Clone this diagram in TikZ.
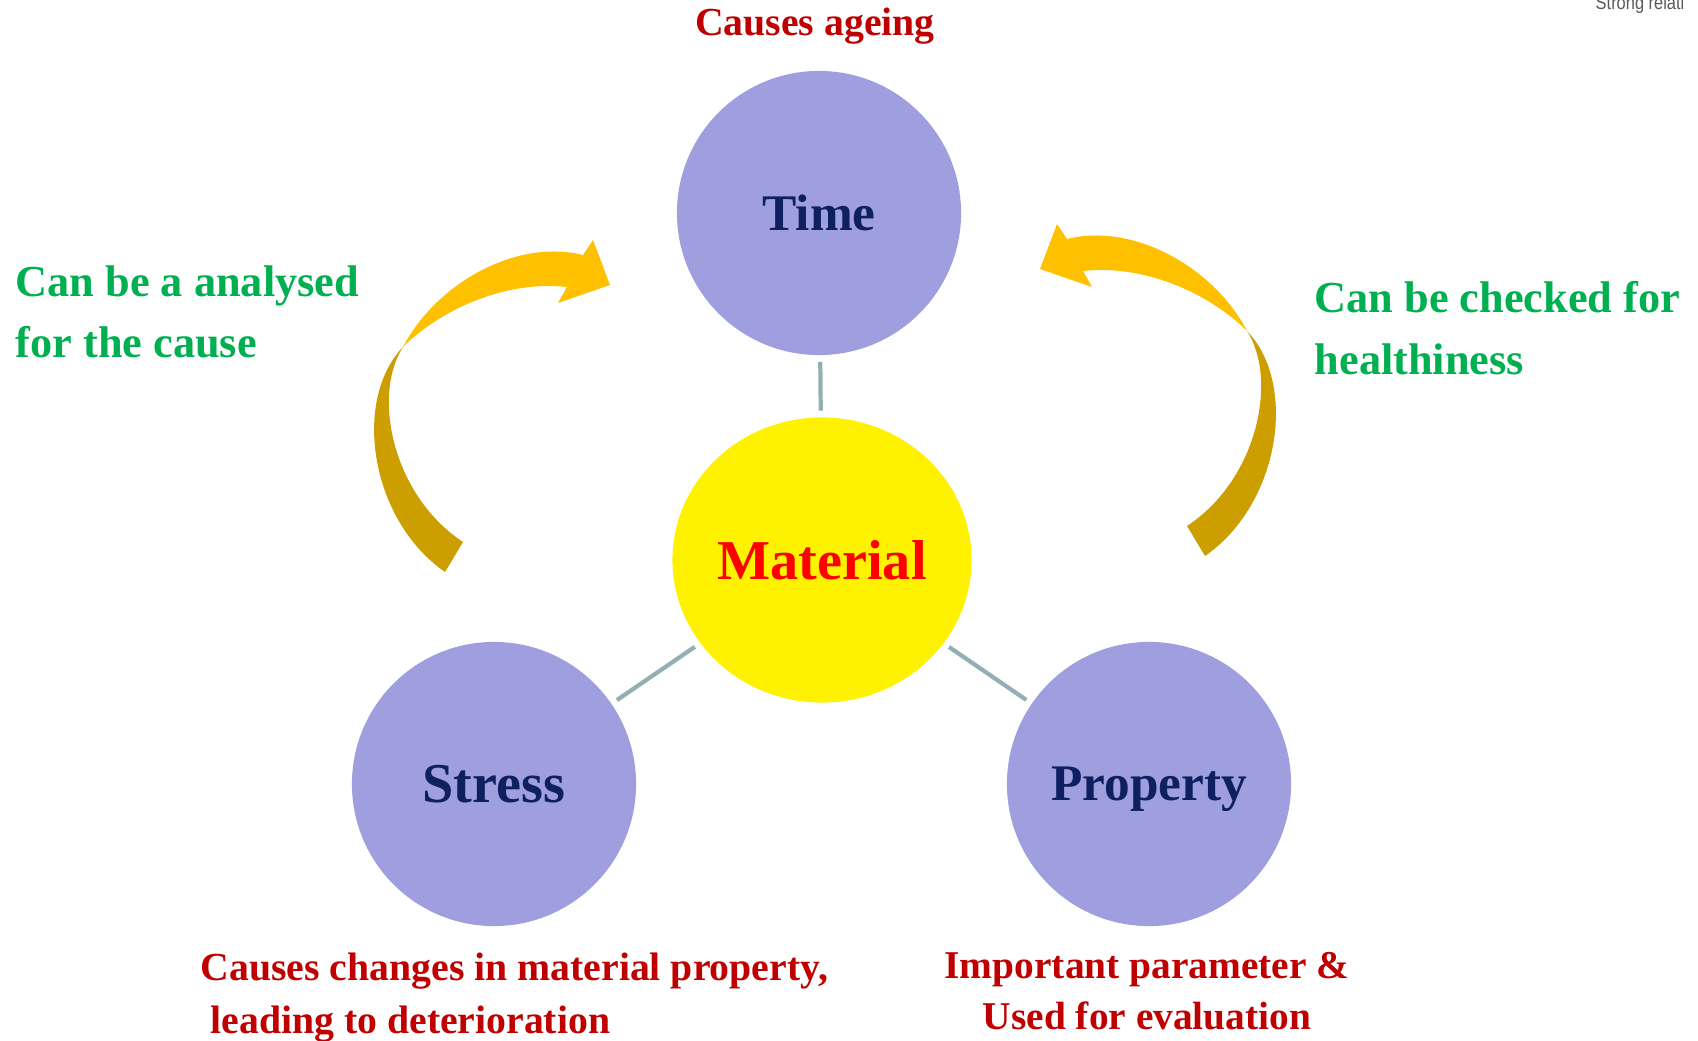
\documentclass[tikz,border=0pt]{standalone}
\usepackage{fontspec}
\setmainfont{Liberation Serif}
\newfontfamily\narrowsans[FakeStretch=0.85]{Liberation Sans}
\usetikzlibrary{shapes.geometric}
\definecolor{lavender}{HTML}{9F9FDF}
\definecolor{navytext}{HTML}{0E2060}
\definecolor{darkred}{HTML}{C00000}
\definecolor{leafgreen}{HTML}{00B050}
\definecolor{linkgray}{HTML}{93AFB4}
\definecolor{arrowdark}{HTML}{CC9E00}
\definecolor{arrowlight}{HTML}{FFC000}
\tikzset{
  bentarrow/.pic={
    \fill[arrowdark] (445,572) .. controls (370,520) and (352,400) .. (403,347)
      .. controls (372,395) and (392,495) .. (463,542) -- cycle;
    \fill[arrowlight] (403,347) .. controls (435,285) and (515,238) .. (583,255)
      -- (593,240) -- (610,285) -- (558,303) -- (567,287)
      .. controls (505,280) and (440,310) .. (403,347) -- cycle;
  }
}
\begin{document}
\begin{tikzpicture}[x=0.01cm,y=-0.01cm,
    factor/.style={circle, fill=lavender, minimum size=2.84cm, inner sep=0pt, text depth=0pt,
      text=navytext, font=\fontsize{14.6}{17}\selectfont\bfseries},
    hub/.style={ellipse, fill=yellow, minimum width=2.99cm, minimum height=2.85cm, inner sep=0pt,
      text depth=0pt, text=red, font=\fontsize{16}{19}\selectfont\bfseries},
    link/.style={draw=linkgray, line width=1.2pt, shorten <=0.06cm, shorten >=0.06cm},
    hint/.style={inner sep=0pt, text=leafgreen, align=left, font=\fontsize{12.6}{17.4}\selectfont\bfseries},
    effect/.style={inner sep=0pt, text=darkred, font=\fontsize{11.3}{15.1}\selectfont\bfseries}]
  \useasboundingbox (0,0) rectangle (1698,1040);
  % curved arrows
  \pic at (0,0) {bentarrow};
  \pic[xscale=-1] at (1650,-16) {bentarrow};
  % circles
  \node[factor] (time) at (819,213) {Time};
  \node[hub] (material) at (822,560) {Material};
  \node[factor, font=\fontsize{16}{19}\selectfont\bfseries] (stress) at (494,784) {Stress};
  \node[factor] (property) at (1149,784) {Property};
  \draw[link] (time) -- (material);
  \draw[link] (stress) -- (material);
  \draw[link] (property) -- (material);
  % labels
  \node[effect, anchor=base] (ageing) at (815,36) {Causes ageing};
  \node[hint, anchor=north west] (analysed) at (15,265) {Can be a analysed\\for the cause};
  \node[hint, anchor=north west] (checked) at (1314,281) {Can be checked for\\healthiness};
  \node[effect, align=left, anchor=north west] (changes) at (200,952)
    {Causes changes in material property,\\~leading to deterioration};
  \node[effect, align=center, anchor=north, font=\fontsize{11.2}{14.5}\selectfont\bfseries] (evaluation) at (1147,952)
    {Important parameter \&\\Used for evaluation};
  \node[inner sep=0pt, anchor=base west, text=black!65, font=\narrowsans\fontsize{5.5}{6}\selectfont] (strong) at (1595,10) {Strong relati};
\end{tikzpicture}
\end{document}
